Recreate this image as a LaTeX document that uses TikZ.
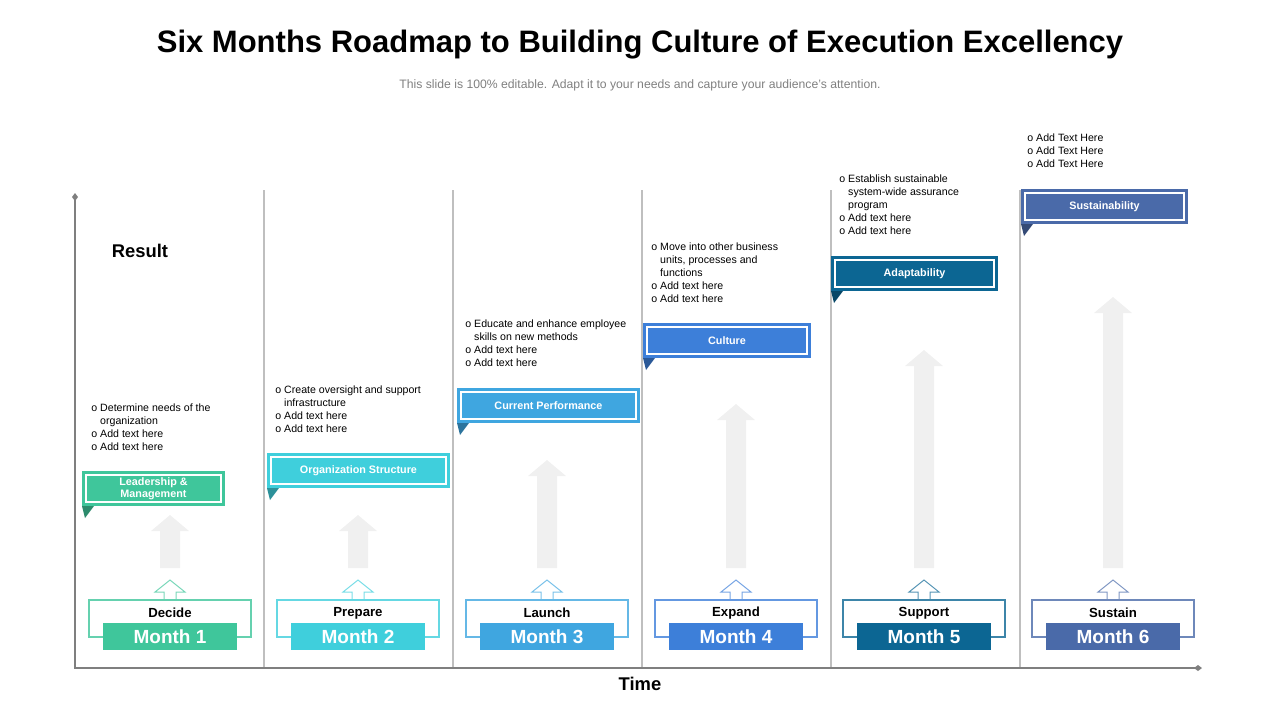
\documentclass[tikz,border=0pt]{standalone}
\usepackage{fontspec}
\setmainfont{Liberation Sans}
\definecolor{mgreen}{HTML}{3FC69B}
\definecolor{mcyan}{HTML}{3FCFDC}
\definecolor{mlblue}{HTML}{3FA6E0}
\definecolor{mblue}{HTML}{3D7FD9}
\definecolor{mdblue}{HTML}{0C6693}
\definecolor{mslate}{HTML}{4A6AA9}
\definecolor{axisgray}{HTML}{7F7F7F}
\definecolor{arrowgray}{HTML}{F0F0F0}
\tikzset{
  bullets/.style={anchor=north west, align=left, inner sep=0pt, font=\fontsize{5.3}{6.5}\selectfont},
  banner/.style={font=\bfseries\fontsize{5.4}{6.2}\selectfont, text=white, align=center},
  monthbox/.style={font=\bfseries\fontsize{9.5}{10}\selectfont, text=white},
  stagelabel/.style={font=\bfseries\fontsize{6.6}{7}\selectfont},
}
\begin{document}
\begin{tikzpicture}[x=0.5pt,y=-0.5pt]
\useasboundingbox (0,0) rectangle (1280,720);
% title
\node (title) at (640,45) {\bfseries\fontsize{15.5}{17}\selectfont Six Months Roadmap to Building Culture of Execution Excellency};
\node[text=gray] (subtitle) at (640,85) {\fontsize{6.1}{7}\selectfont This slide is 100\% editable. Adapt it to your needs and capture your audience's attention.};
% column separators
\foreach \sx in {264,453,642,831,1020}
  \draw[black!25, line width=0.6pt] (\sx,190) -- (\sx,668);
% axes
\coordinate (ytop) at (75,197);
\coordinate (orig) at (75,668);
\coordinate (xend) at (1198,668);
\draw[axisgray, line width=1.3pt] (ytop) -- (orig) -- (xend);
\fill[axisgray] (ytop) ++(0,-4) -- ++(3,4) -- ++(-3,4) -- ++(-3,-4) -- cycle;
\fill[axisgray] (xend) ++(4,0) -- ++(-4,3) -- ++(-4,-3) -- ++(4,-3) -- cycle;
\node[font=\bfseries\fontsize{9.2}{10}\selectfont] (result) at (140,251) {Result};
\node[font=\bfseries\fontsize{9.2}{10}\selectfont] (time) at (640,684) {Time};
% columns
\foreach \c/\stage/\m/\col/\atop in {170/Decide/1/mgreen/515, 358/Prepare/2/mcyan/515,
    547/Launch/3/mlblue/460, 736/Expand/4/mblue/404, 924/Support/5/mdblue/350,
    1113/Sustain/6/mslate/297} {
  % big gray arrow
  \fill[arrowgray] (\c,\atop) -- (\c+19,\atop+16) -- (\c+10,\atop+16) -- (\c+10,568)
    -- (\c-10,568) -- (\c-10,\atop+16) -- (\c-19,\atop+16) -- cycle;
  % small outline arrow
  \draw[\col!70, line width=0.5pt] (\c-6,600) -- (\c-6,592) -- (\c-15,592) -- (\c,580)
    -- (\c+15,592) -- (\c+6,592) -- (\c+6,600);
  % bracket
  \draw[\col!80, line width=0.6pt] (\c-67,637) -- (\c-81,637) -- (\c-81,600) -- (\c+81,600)
    -- (\c+81,637) -- (\c+67,637);
  \node[stagelabel] (stage\m) at (\c,613) {\stage};
  \node[monthbox, fill=\col, minimum width=67pt, minimum height=13.5pt] (month\m) at (\c,636.5) {Month \m};
}
% banners
\foreach \bx/\by/\bw/\col/\txt/\n in {82/471/143/mgreen/{Leadership \&\\Management}/1,
    267/453/183/mcyan/{Organization Structure}/2, 457/388/183/mlblue/{Current Performance}/3,
    643/323/168/mblue/Culture/4, 831/256/167/mdblue/Adaptability/5, 1021/189/167/mslate/Sustainability/6} {
  \fill[\col!70!black] (\bx,\by+35) -- (\bx+12,\by+35) -- (\bx+3,\by+47) -- cycle;
  \fill[\col] (\bx,\by) rectangle (\bx+\bw,\by+35);
  \draw[white, line width=0.6pt] (\bx+4,\by+4) rectangle (\bx+\bw-4,\by+31);
  \node[banner] (banner\n) at (\bx+\bw/2,\by+17.5) {\txt};
}
% bullet texts
\node[bullets] (notes1) at (91,403) {o Determine needs of the\\\phantom{o }organization\\o Add text here\\o Add text here};
\node[bullets] (notes2) at (275,385) {o Create oversight and support\\\phantom{o }infrastructure\\o Add text here\\o Add text here};
\node[bullets] (notes3) at (465,319) {o Educate and enhance employee\\\phantom{o }skills on new methods\\o Add text here\\o Add text here};
\node[bullets] (notes4) at (651,242) {o Move into other business\\\phantom{o }units, processes and\\\phantom{o }functions\\o Add text here\\o Add text here};
\node[bullets] (notes5) at (839,174) {o Establish sustainable\\\phantom{o }system-wide assurance\\\phantom{o }program\\o Add text here\\o Add text here};
\node[bullets] (notes6) at (1027,133) {o Add Text Here\\o Add Text Here\\o Add Text Here};
\end{tikzpicture}
\end{document}
